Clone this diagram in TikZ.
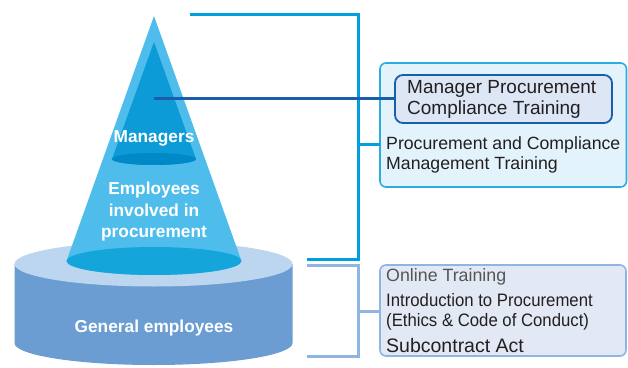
\documentclass[tikz,border=0pt]{standalone}
\usepackage{fontspec}
\setmainfont{Liberation Sans}
\newfontfamily\narrowfont[FakeStretch=0.93]{Liberation Sans}
\definecolor{coneOut}{HTML}{4EBDEC}
\definecolor{coneOutBase}{HTML}{14A6DB}
\definecolor{coneIn}{HTML}{0C9BD6}
\definecolor{coneInBase}{HTML}{0088C7}
\definecolor{cylTop}{HTML}{BCD6EF}
\definecolor{cylBody}{HTML}{6B9DD3}
\definecolor{cyanLine}{HTML}{00A0DF}
\definecolor{darkLine}{HTML}{1A5EAB}
\definecolor{lightLine}{HTML}{8FB5E2}
\definecolor{boxCyanFill}{HTML}{E2F3FC}
\definecolor{boxCyanDraw}{HTML}{2AABE2}
\definecolor{boxInFill}{HTML}{DDE6F4}
\definecolor{boxLowFill}{HTML}{E2E9F5}
\definecolor{txt}{HTML}{231F20}
\definecolor{txtGray}{HTML}{555555}
\begin{document}
\begin{tikzpicture}[x=1pt,y=1pt,
  whitelabel/.style={text=white,font=\bfseries\fontsize{17.3}{21.5}\selectfont,align=center,inner sep=0pt},
  boxtext/.style={text=txt,font=\fontsize{17.7}{20.5}\selectfont,align=left,inner sep=0pt,anchor=west},
  cyanl/.style={draw=cyanLine,line width=3pt},
  darkl/.style={draw=darkLine,line width=3pt},
  lightl/.style={draw=lightLine,line width=3pt}]
\useasboundingbox (0,0) rectangle (628,367);
% cylinder
\fill[cylBody] (14.5,103) -- (14.5,24) arc[start angle=180,end angle=360,x radius=139,y radius=22] -- (292.5,103) -- cycle;
\fill[cylTop] (153.5,103) ellipse[x radius=139,y radius=22.5];
% outer cone
\fill[coneOut] (154,351) -- (241.5,106) arc[start angle=0,end angle=-180,x radius=87.5,y radius=14] -- cycle;
\fill[coneOutBase] (154,106) ellipse[x radius=87.5,y radius=14];
% inner cone
\fill[coneIn] (154,325) -- (196,208) arc[start angle=0,end angle=-180,x radius=42,y radius=6] -- cycle;
\fill[coneInBase] (154,208) ellipse[x radius=42,y radius=6];
% labels on shapes
\node[whitelabel] (mgr) at (154,229) {Managers};
\node[whitelabel] (emp) at (154,155) {Employees\\involved in\\procurement};
\node[whitelabel] (gen) at (154,39) {General employees};
\coordinate (mgrpt) at (154,268);
\coordinate (topL) at (190,352);
\coordinate (topR) at (358,352);
\coordinate (midR) at (358,108);
\coordinate (midL) at (307,108);
\coordinate (lowTL) at (307,102);
\coordinate (lowTR) at (358,102);
\coordinate (lowBR) at (358,11);
\coordinate (lowBL) at (307,11);
% boxes
\path[fill=boxCyanFill,draw=boxCyanDraw,line width=1.6pt,rounded corners=6pt] (380,180) rectangle (626.5,304);
\node[draw=darkLine,fill=boxInFill,line width=1.8pt,rounded corners=8pt,minimum width=217pt,minimum height=48pt,inner sep=0pt] (inbox) at (503.5,268) {};
\node[boxtext,font=\fontsize{19}{21}\selectfont] (intext) at (407,268) {Manager Procurement\\Compliance Training};
\node[boxtext] (outtext) at (386,212) {Procurement and Compliance\\Management Training};
\coordinate (outboxL) at (380,222);
\path[fill=boxLowFill,draw=lightLine,line width=1.6pt,rounded corners=6pt] (380,11) rectangle (626,102);
\coordinate (lowboxL) at (380,56);
\node[boxtext,text=txtGray,font=\fontsize{17.8}{20}\selectfont] (online) at (386,90) {Online Training};
\node[boxtext,font=\narrowfont\fontsize{18}{20}\selectfont] (intro) at (386,55) {Introduction to Procurement\\(Ethics \& Code of Conduct)};
\node[boxtext,font=\fontsize{19.5}{20}\selectfont] (sub) at (386,21) {Subcontract Act};
% connectors
\draw[cyanl] (topL) -- (topR) -- (midR) -- (midL);
\draw[cyanl] (358,222) -- (outboxL);
\draw[lightl] (lowTL) -- (lowTR) -- (lowBR) -- (lowBL);
\draw[lightl] (358,56) -- (lowboxL);
\draw[darkl] (mgrpt) -- (inbox.west);
\end{tikzpicture}
\end{document}
